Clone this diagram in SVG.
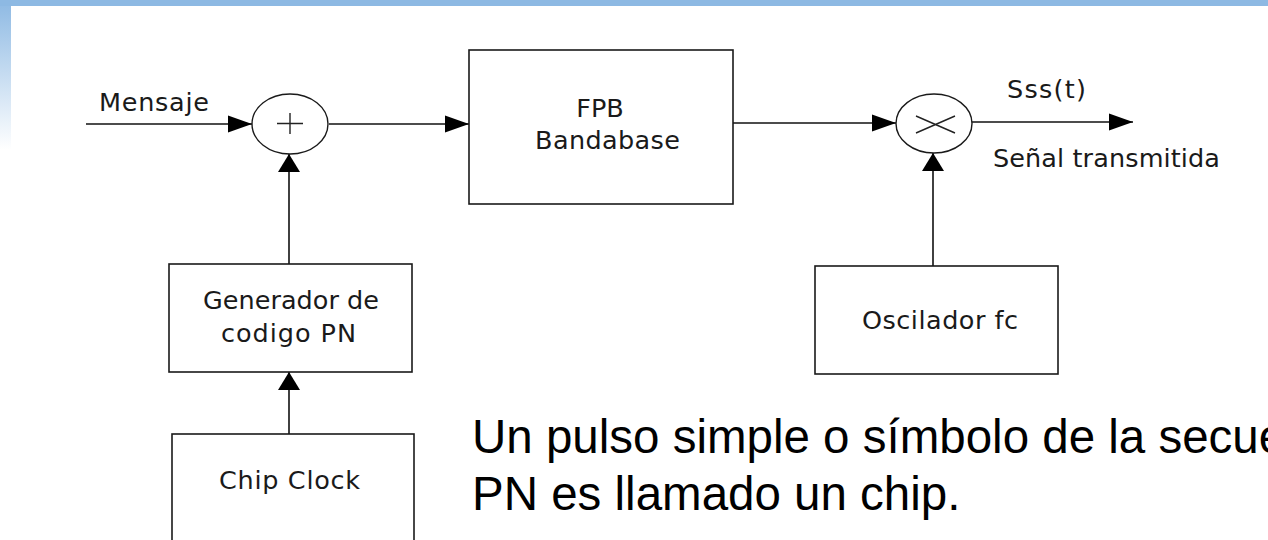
<svg xmlns="http://www.w3.org/2000/svg" width="1268" height="540" viewBox="0 0 1268 540">
<defs>
<linearGradient id="strip" x1="0" y1="0" x2="0" y2="1">
<stop offset="0" stop-color="#8DB9E3"/>
<stop offset="1" stop-color="#ffffff"/>
</linearGradient>
<marker id="ah" markerUnits="userSpaceOnUse" markerWidth="24" markerHeight="18" refX="24" refY="9" orient="auto">
<path d="M0,0.5 L24,9 L0,17.5 z" fill="#000"/>
</marker>
<marker id="av" markerUnits="userSpaceOnUse" markerWidth="18" markerHeight="22" refX="18" refY="11" orient="auto">
<path d="M0,0 L18,11 L0,22 z" fill="#000"/>
</marker>
</defs>
<style>
.box{fill:#fff;stroke:#1a1a1a;stroke-width:1.6}
.ring{fill:#fff;stroke:#1a1a1a;stroke-width:1.4}
.ln{stroke:#111;stroke-width:1.6;fill:none}
.sym{stroke:#222;stroke-width:1.4;fill:none}
.lbl{font-family:"DejaVu Sans",sans-serif;font-size:25.5px;fill:#1a1a1a}
.big{font-family:"Liberation Sans",Arial,sans-serif;font-size:47.5px;fill:#000}
</style>
<rect x="0" y="0" width="1268" height="540" fill="#fff"/>
<rect x="0" y="0" width="11" height="150" fill="url(#strip)"/>
<rect x="0" y="0" width="1268" height="6" fill="#8DB9E3"/>

<g id="connectors">
<line class="ln" x1="86" y1="124" x2="252" y2="124" marker-end="url(#ah)"/>
<line class="ln" x1="329" y1="124" x2="469" y2="124" marker-end="url(#ah)"/>
<line class="ln" x1="733" y1="123" x2="896" y2="123" marker-end="url(#ah)"/>
<line class="ln" x1="972" y1="122" x2="1133" y2="122" marker-end="url(#ah)"/>
<line class="ln" x1="289" y1="264" x2="289" y2="154" marker-end="url(#av)"/>
<line class="ln" x1="933" y1="266" x2="933" y2="153" marker-end="url(#av)"/>
<line class="ln" x1="289" y1="434" x2="289" y2="372" marker-end="url(#av)"/>
<text class="lbl" x="99" y="111" textLength="110" lengthAdjust="spacing">Mensaje</text>
<text class="lbl" x="1007" y="98" textLength="79" lengthAdjust="spacing">Sss(t)</text>
<text class="lbl" x="993" y="167" textLength="227" lengthAdjust="spacing">Señal transmitida</text>
</g>

<g id="sumador">
<ellipse class="ring" cx="290" cy="124" rx="38" ry="30"/>
<path class="sym" d="M277,123.5 H303 M290,113 V134"/>
</g>

<g id="fpb">
<rect class="box" x="469" y="50" width="264" height="154"/>
<text class="lbl" x="600" y="117" text-anchor="middle">FPB</text>
<text class="lbl" x="535" y="149" textLength="145" lengthAdjust="spacing">Bandabase</text>
</g>

<g id="multiplicador">
<ellipse class="ring" cx="934" cy="123.5" rx="38" ry="29.5"/>
<path class="sym" d="M916,116 L955,133 M916,133 L955,116"/>
</g>

<g id="generador">
<rect class="box" x="169" y="264" width="243" height="108"/>
<text class="lbl" x="203" y="309" textLength="176" lengthAdjust="spacing">Generador de</text>
<text class="lbl" x="221" y="342" textLength="135" lengthAdjust="spacing">codigo PN</text>
</g>

<g id="oscilador">
<rect class="box" x="815" y="266" width="243" height="108"/>
<text class="lbl" x="862" y="329" textLength="156" lengthAdjust="spacing">Oscilador fc</text>
</g>

<g id="chipclock">
<rect class="box" x="172" y="434" width="242" height="120"/>
<text class="lbl" x="219" y="489" textLength="141" lengthAdjust="spacing">Chip Clock</text>
</g>

<g id="nota">
<text class="big" x="472" y="453">Un pulso simple o símbolo de la secuencia</text>
<text class="big" x="472" y="510">PN es llamado un chip.</text>
</g>
</svg>
